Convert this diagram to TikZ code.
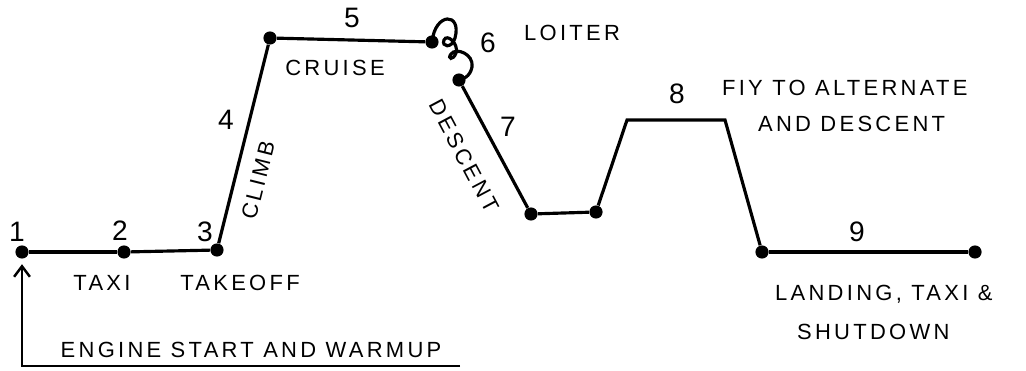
\documentclass[tikz,border=0pt]{standalone}
\usepackage{fontspec}
\usepackage{tikz}
\usetikzlibrary{arrows.meta, positioning, calc}
\newfontfamily\handfont[LetterSpace=15]{Liberation Sans}
\newfontfamily\numfont{Liberation Sans}

\begin{document}
\begin{tikzpicture}[
  x=0.02cm, y=-0.02cm,
  dot/.style={circle, fill=black, inner sep=0pt, minimum size=7.5pt},
  leg/.style={line width=1.8pt, black},
  arrow/.style={-{Straight Barb[length=6pt, width=9pt]}, line width=1.4pt},
  numlbl/.style={font=\numfont\fontsize{16}{18}\selectfont},
  phaselbl/.style={font=\handfont\fontsize{12.5}{17}\selectfont, inner sep=1pt},
]
  \useasboundingbox (0,0) rectangle (1026,371);

  % mission points
  \node[dot] (p1) at (22,252) {};
  \node[dot] (p2) at (124,252) {};
  \node[dot] (p3) at (217,250) {};
  \node[dot] (p4) at (270,38) {};
  \node[dot] (p5) at (432,42) {};
  \node[dot] (p6) at (459,80) {};
  \node[dot] (p7) at (531,214) {};
  \node[dot] (p8) at (596,212) {};
  \coordinate (a1) at (627,120);
  \coordinate (a2) at (725,120);
  \node[dot] (p9) at (762,252) {};
  \node[dot] (p10) at (975,252) {};
  \coordinate (wend) at (460,366);

  \draw[leg] (p1) -- (p2);
  \draw[leg] (p2) -- (p3);
  \draw[leg] (p3) -- (p4);
  \draw[leg] (p4) -- (p5);
  % loiter coil
  \draw[leg] (p5.center) .. controls (435,12) and (462,12) .. (455,38)
    .. controls (452,49) and (441,47) .. (444,40)
    .. controls (447,33) and (459,44) .. (456,53)
    .. controls (453,61) and (447,59) .. (451,54)
    .. controls (456,47) and (474,54) .. (472,67)
    .. controls (470,77) and (463,79) .. (p6.center);
  \draw[leg] (p6) -- (p7);
  \draw[leg] (p7) -- (p8);
  \draw[leg] (p8) -- (a1) -- (a2) -- (p9);
  \draw[leg] (p9) -- (p10);
  \draw[arrow, shorten >=3pt] (wend) -| (p1);

  % segment numbers
  \node[numlbl] (n1) at (17,232) {1};
  \node[numlbl] (n2) at (120,231) {2};
  \node[numlbl] (n3) at (205,232) {3};
  \node[numlbl] (n4) at (226,120) {4};
  \node[numlbl] (n5) at (352,18) {5};
  \node[numlbl] (n6) at (488,43) {6};
  \node[numlbl] (n7) at (508,127) {7};
  \node[numlbl] (n8) at (677,94) {8};
  \node[numlbl] (n9) at (857,232) {9};

  % phase names
  \node[phaselbl] (taxi) at (102,283) {TAXI};
  \node[phaselbl] (takeoff) at (240,283) {TAKEOFF};
  \node[phaselbl, rotate=76] (climb) at (258,180) {CLIMB};
  \node[phaselbl] (cruise) at (335,68) {CRUISE};
  \node[phaselbl, anchor=west] (loiter) at (522,33) {LOITER};
  \node[phaselbl, rotate=-62] (descent) at (464,156) {DESCENT};
  \node[phaselbl, anchor=west] (alt) at (720,88) {FIY TO ALTERNATE};
  \node[phaselbl, anchor=west] (alt2) at (756,124) {AND DESCENT};
  \node[phaselbl, anchor=west] (land) at (773,294) {LANDING, TAXI \&};
  \node[phaselbl, anchor=west] (shut) at (795,332) {SHUTDOWN};
  \node[phaselbl] (start) at (251,350) {ENGINE START AND WARMUP};
\end{tikzpicture}
\end{document}
